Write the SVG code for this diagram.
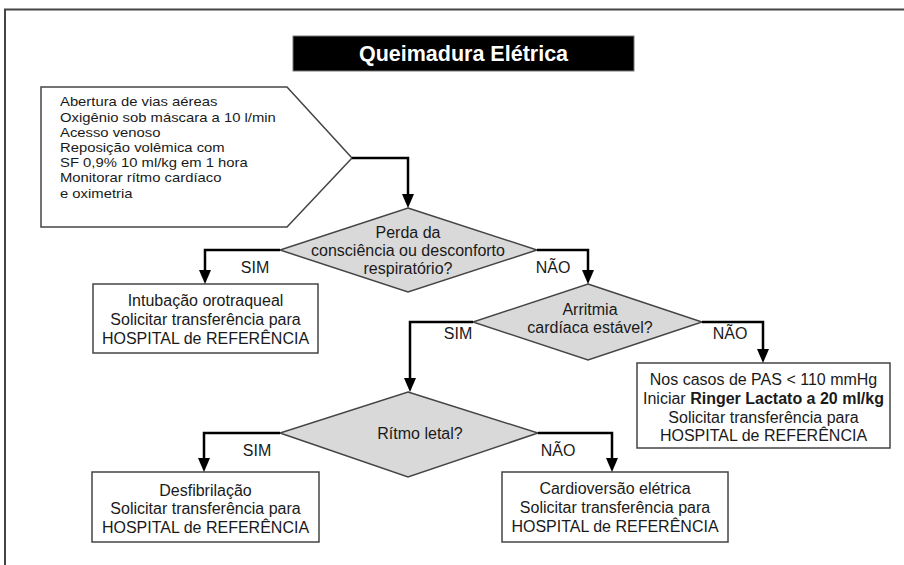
<svg xmlns="http://www.w3.org/2000/svg" width="904" height="565" viewBox="0 0 904 565">
<style>
text{font-family:"Liberation Sans",Arial,sans-serif;font-size:16px;fill:#1a1a1a}
.c{text-anchor:middle}
.box{fill:#fff;stroke:#444;stroke-width:1.5}
.dia{fill:#d9d9d9;stroke:#444;stroke-width:1.5}
.con{fill:none;stroke:#000;stroke-width:2.5}
.pt{font-size:13.6px}
</style>
<defs>
<marker id="ah" viewBox="0 0 14 12" refX="6" refY="6" markerWidth="14" markerHeight="12" markerUnits="userSpaceOnUse" orient="auto">
<path d="M0,0 L14,6 L0,12 z" fill="#000"/>
</marker>
</defs>
<rect x="0" y="0" width="904" height="565" fill="#fff"/>
<rect x="5" y="9.5" width="1000" height="1000" fill="none" stroke="#444" stroke-width="2"/>
<g id="title">
<rect x="293" y="36" width="341" height="35" fill="#000" stroke="#777" stroke-width="1"/>
<text x="463.5" y="60.5" class="c" style="font-size:21.5px;font-weight:bold;fill:#fff">Queimadura Elétrica</text>
</g>
<g id="inicio">
<path d="M41,87 H287 L352,158 L287,227 H41 Z" class="box"/>
<g transform="translate(60,0) scale(1.09,1)">
<text x="0" y="106.5" class="pt">Abertura de vias aéreas</text>
<text x="0" y="121.7" class="pt">Oxigênio sob máscara a 10 l/min</text>
<text x="0" y="136.9" class="pt">Acesso venoso</text>
<text x="0" y="152.1" class="pt">Reposição volêmica com</text>
<text x="0" y="167.3" class="pt">SF 0,9% 10 ml/kg em 1 hora</text>
<text x="0" y="182.5" class="pt">Monitorar rítmo cardíaco</text>
<text x="0" y="197.7" class="pt">e oximetria</text>
</g>
</g>
<g id="d1">
<path d="M408,208 L537,250 L408,292 L280,250 Z" class="dia"/>
<text x="408" y="238" class="c">Perda da</text>
<text x="408" y="256" class="c">consciência ou desconforto</text>
<text x="408" y="274" class="c">respiratório?</text>
</g>
<g id="b1">
<rect x="93" y="284" width="225" height="69" class="box"/>
<text x="205.5" y="306" class="c">Intubação orotraqueal</text>
<text x="205.5" y="325" class="c">Solicitar transferência para</text>
<text x="205.5" y="344" class="c">HOSPITAL de REFERÊNCIA</text>
</g>
<g id="d2">
<path d="M588,284 L702,322 L588,360 L473,322 Z" class="dia"/>
<text x="590" y="315" class="c">Arritmia</text>
<text x="590" y="333" class="c">cardíaca estável?</text>
</g>
<g id="b2">
<rect x="637" y="363" width="253" height="85" class="box"/>
<text x="763.5" y="385" class="c">Nos casos de PAS &lt; 110 mmHg</text>
<text x="763.5" y="404" class="c">Iniciar <tspan font-weight="bold">Ringer Lactato a 20 ml/kg</tspan></text>
<text x="763.5" y="423" class="c">Solicitar transferência para</text>
<text x="763.5" y="441" class="c">HOSPITAL de REFERÊNCIA</text>
</g>
<g id="d3">
<path d="M408,392 L538,433 L408,477 L280,433 Z" class="dia"/>
<text x="420" y="439" class="c">Rítmo letal?</text>
</g>
<g id="b3">
<rect x="92" y="472" width="227" height="70" class="box"/>
<text x="205.5" y="496" class="c">Desfibrilação</text>
<text x="205.5" y="514" class="c">Solicitar transferência para</text>
<text x="205.5" y="533" class="c">HOSPITAL de REFERÊNCIA</text>
</g>
<g id="b4">
<rect x="502" y="472" width="226" height="70" class="box"/>
<text x="615" y="494" class="c">Cardioversão elétrica</text>
<text x="615" y="513" class="c">Solicitar transferência para</text>
<text x="615" y="532" class="c">HOSPITAL de REFERÊNCIA</text>
</g>
<g id="connectors">
<path d="M352,158 H408 V200" class="con" marker-end="url(#ah)"/>
<path d="M280,250 H205 V276" class="con" marker-end="url(#ah)"/>
<path d="M537,250 H588 V276" class="con" marker-end="url(#ah)"/>
<path d="M473,322 H410 V384" class="con" marker-end="url(#ah)"/>
<path d="M702,322 H763 V355" class="con" marker-end="url(#ah)"/>
<path d="M280,433 H204 V464" class="con" marker-end="url(#ah)"/>
<path d="M538,433 H612 V464" class="con" marker-end="url(#ah)"/>
<text x="255" y="273" class="c">SIM</text>
<text x="553" y="273" class="c">NÃO</text>
<text x="458" y="339" class="c">SIM</text>
<text x="730" y="339" class="c">NÃO</text>
<text x="257" y="456" class="c">SIM</text>
<text x="558" y="456" class="c">NÃO</text>
</g>
</svg>
